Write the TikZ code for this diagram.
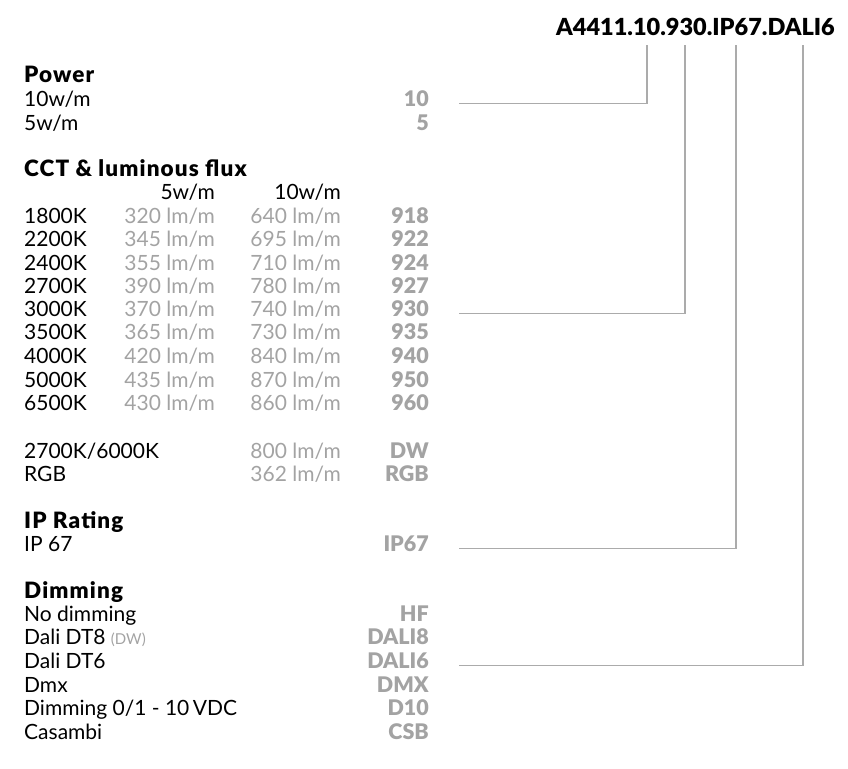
\documentclass[tikz,border=0pt]{standalone}
\usepackage{fontspec}
\setmainfont{Lato}[BoldFont={Lato Black}]
\definecolor{codegrey}{HTML}{A3A3A3}
\definecolor{linegrey}{HTML}{ABABAB}
\begin{document}
\begin{tikzpicture}[x=1pt,y=-1pt,
  txt/.style={inner sep=0pt,font=\fontsize{21}{24}\selectfont},
  lab/.style={txt,anchor=base west},
  head/.style={txt,anchor=base west,font=\fontsize{22.5}{24}\selectfont\bfseries\addfontfeatures{LetterSpace=5}},
  flux/.style={txt,anchor=base east,text=codegrey},
  code/.style={txt,anchor=base east,text=codegrey,font=\fontsize{21.5}{24}\selectfont\bfseries},
  conn/.style={draw=linegrey,line width=1.5pt}]
\useasboundingbox (0,0) rectangle (848,768);
\node[txt,anchor=base east,font=\fontsize{23.5}{26}\selectfont\bfseries] (title) at (835,36) {A4411.10.930.IP67.DALI6};
% Power
\node[head] (hpow) at (24,82) {Power};
\node[lab] (p10) at (24,106) {10w/m};
\node[code] (c10) at (429,106) {10};
\node[lab] (p5) at (24,130) {5w/m};
\node[code] (c5) at (429,130) {5};
% CCT
\node[head] (hcct) at (24,176) {CCT \& luminous flux};
\node[txt,anchor=base east] (h5) at (215,199) {5w/m};
\node[txt,anchor=base east] (h10) at (341,199) {10w/m};
\foreach \n/\y/\k/\a/\b/\c in {
  1/223/1800K/320/640/918,
  2/246/2200K/345/695/922,
  3/270/2400K/355/710/924,
  4/293/2700K/390/780/927,
  5/316/3000K/370/740/930,
  6/339/3500K/365/730/935,
  7/363/4000K/420/840/940,
  8/387/5000K/435/870/950,
  9/410/6500K/430/860/960}{
  \node[lab] (k\n) at (24,\y) {\k};
  \node[flux] (fa\n) at (215,\y) {\a\ lm/m};
  \node[flux] (fb\n) at (341,\y) {\b\ lm/m};
  \node[code] (cc\n) at (429,\y) {\c};
}
\node[lab] (kdw) at (24,458) {2700K/6000K};
\node[flux] (fdw) at (341,458) {800 lm/m};
\node[code] (cdw) at (429,458) {DW};
\node[lab] (krgb) at (24,481) {RGB};
\node[flux] (frgb) at (341,481) {362 lm/m};
\node[code] (crgb) at (429,481) {RGB};
% IP
\node[head] (hip) at (24,528) {IP Rating};
\node[lab] (ip) at (24,551) {IP 67};
\node[code] (cip) at (429,551) {IP67};
% Dimming
\node[head] (hdim) at (24,598) {Dimming};
\node[lab] (d1) at (24,621) {No dimming};
\node[code] (cd1) at (429,621) {HF};
\node[lab] (d2) at (24,644) {Dali DT8 {\fontsize{15}{16}\selectfont\color{codegrey}(DW)}};
\node[code] (cd2) at (429,644) {DALI8};
\node[lab] (d3) at (24,668) {Dali DT6};
\node[code] (cd3) at (429,668) {DALI6};
\node[lab] (d4) at (24,692) {Dmx};
\node[code] (cd4) at (429,692) {DMX};
\node[lab] (d5) at (24,715) {Dimming 0/1 - 10\,VDC};
\node[code] (cd5) at (429,715) {D10};
\node[lab] (d6) at (24,739) {Casambi};
\node[code] (cd6) at (429,739) {CSB};
% connector tops
\coordinate (t1) at (647,45);
\coordinate (t2) at (685,45);
\coordinate (t3) at (736,45);
\coordinate (t4) at (803,45);
\draw[conn] (459,0 |- c10.mid east) -| (t1);
\draw[conn] (459,0 |- cc5.mid east) -| (t2);
\draw[conn] (459,0 |- cip.mid east) -| (t3);
\draw[conn] (459,0 |- cd3.mid east) -| (t4);
\end{tikzpicture}
\end{document}
